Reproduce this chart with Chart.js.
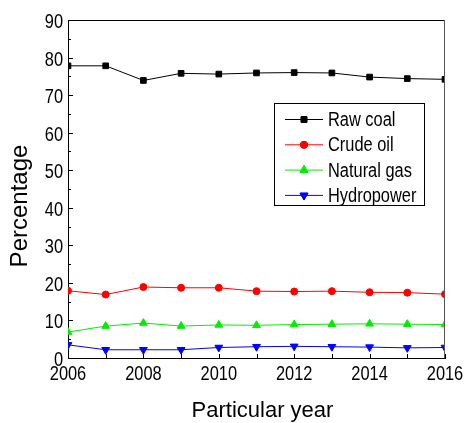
<!DOCTYPE html>
<html>
<head>
<meta charset="utf-8">
<script src="https://cdn.jsdelivr.net/npm/chart.js@4/dist/chart.umd.min.js"></script>
<style>
  html, body { margin: 0; padding: 0; background: #fff; }
  canvas { display: block; }
</style>
</head>
<body>
<canvas id="chart" width="465" height="423"></canvas>
<script>
// Share of primary energy production by source (%)
const years = [2006, 2007, 2008, 2009, 2010, 2011, 2012, 2013, 2014, 2015, 2016];
const rawCoal    = [77.8, 77.8, 73.9, 75.8, 75.6, 75.9, 76.0, 75.9, 74.8, 74.4, 74.2];
const crudeOil   = [17.9, 16.9, 18.9, 18.7, 18.7, 17.8, 17.7, 17.8, 17.5, 17.4, 17.0];
const naturalGas = [6.9, 8.5, 9.3, 8.5, 8.8, 8.7, 8.9, 9.0, 9.1, 9.0, 8.9];
const hydropower = [3.5, 2.2, 2.2, 2.2, 2.8, 3.0, 3.1, 3.0, 2.9, 2.7, 2.8];

const seriesNames = ['Raw coal', 'Crude oil', 'Natural gas', 'Hydropower'];
const xTickLabels = [2006, 2008, 2010, 2012, 2014, 2016];
const yTickLabels = [0, 10, 20, 30, 40, 50, 60, 70, 80, 90];
const xTitle = 'Particular year';
const yTitle = 'Percentage';

const SANS = "'Liberation Sans', Arial, sans-serif";
const CONDENSE = 0.82; // horizontal squeeze for the narrow tick and legend lettering

const styles = [
  { color: '#000000', pointStyle: 'rect', radius: 4, rotation: 0 },
  { color: '#ff0000', pointStyle: 'circle', radius: 3.5, rotation: 0 },
  { color: '#00ee00', pointStyle: 'triangle', radius: 4.5, rotation: 0 },
  { color: '#0000ff', pointStyle: 'triangle', radius: 4.5, rotation: 180 }
];
const seriesValues = [rawCoal, crudeOil, naturalGas, hydropower];

const datasets = seriesValues.map((vals, i) => ({
  label: seriesNames[i],
  data: years.map((yr, k) => ({ x: yr, y: vals[k] })),
  borderColor: styles[i].color,
  backgroundColor: styles[i].color,
  borderWidth: 1,
  pointStyle: styles[i].pointStyle,
  pointRadius: styles[i].radius,
  pointRotation: styles[i].rotation,
  pointBorderWidth: 1,
  pointBackgroundColor: styles[i].color,
  pointBorderColor: styles[i].color,
  tension: 0,
  clip: 0
}));

function narrowText(ctx, text, x, y, align) {
  ctx.save();
  ctx.translate(x, y);
  ctx.scale(CONDENSE, 1);
  ctx.textAlign = align;
  ctx.fillText(text, 0, 0);
  ctx.restore();
}

// Frame, inward tick marks, tick labels, axis titles and the boxed legend
const decorations = {
  id: 'decorations',
  afterDraw(chart) {
    const ctx = chart.ctx;
    const { left, right, top, bottom } = chart.chartArea;
    const xs = chart.scales.x, ys = chart.scales.y;
    ctx.save();

    // top and right edges of the frame
    ctx.lineWidth = 1;
    ctx.strokeStyle = '#000';
    ctx.beginPath();
    ctx.moveTo(left, top + 0.5);
    ctx.lineTo(right, top + 0.5);
    ctx.stroke();
    ctx.strokeStyle = '#555';
    ctx.beginPath();
    ctx.moveTo(right - 0.5, top);
    ctx.lineTo(right - 0.5, bottom);
    ctx.stroke();

    // inward ticks
    ctx.strokeStyle = '#000';
    ctx.beginPath();
    for (let v = 0; v <= 90; v += 5) {
      const y = Math.round(ys.getPixelForValue(v)) + 0.5;
      ctx.moveTo(left, y);
      ctx.lineTo(left + (v % 10 === 0 ? 5 : 3), y);
    }
    years.forEach(yr => {
      const x = Math.round(xs.getPixelForValue(yr)) + 0.5;
      ctx.moveTo(x, bottom);
      ctx.lineTo(x, bottom - 4);
    });
    ctx.stroke();

    // tick labels
    ctx.fillStyle = '#000';
    ctx.textBaseline = 'alphabetic';
    ctx.font = '20px ' + SANS;
    yTickLabels.forEach(v => {
      narrowText(ctx, String(v), left - 5, ys.getPixelForValue(v) + 8, 'right');
    });
    xTickLabels.forEach(v => {
      narrowText(ctx, String(v), xs.getPixelForValue(v), bottom + 22, 'center');
    });

    // axis titles
    ctx.textAlign = 'center';
    ctx.font = '22px ' + SANS;
    ctx.fillText(xTitle, (left + right) / 2 + 6, 417);
    ctx.save();
    ctx.translate(27, (top + bottom) / 2 + 17);
    ctx.rotate(-Math.PI / 2);
    ctx.font = '24px ' + SANS;
    ctx.fillText(yTitle, 0, 0);
    ctx.restore();

    // legend
    const bx = 274.5, by = 103.5, bw = 150, bh = 102;
    ctx.fillStyle = '#fff';
    ctx.fillRect(bx, by, bw, bh);
    ctx.strokeStyle = '#000';
    ctx.strokeRect(bx, by, bw, bh);
    ctx.font = '20px ' + SANS;
    ctx.textBaseline = 'middle';
    chart.data.datasets.forEach((ds, i) => {
      const y = 119.5 + i * 25.3;
      ctx.strokeStyle = ds.borderColor;
      ctx.lineWidth = 1;
      ctx.beginPath();
      ctx.moveTo(285, y);
      ctx.lineTo(323, y);
      ctx.stroke();
      ctx.fillStyle = ds.borderColor;
      Chart.helpers.drawPoint(ctx, {
        pointStyle: ds.pointStyle,
        radius: ds.pointRadius,
        rotation: ds.pointRotation,
        borderWidth: 1
      }, 304, y);
      ctx.fill();
      ctx.stroke();
      ctx.fillStyle = '#000';
      narrowText(ctx, ds.label, 328, y + 1, 'left');
    });
    ctx.restore();
  }
};

new Chart(document.getElementById('chart'), {
  type: 'line',
  data: { datasets },
  options: {
    responsive: false,
    animation: false,
    devicePixelRatio: 1,
    layout: { padding: { top: 20, right: 20, left: 0, bottom: 0 } },
    plugins: { legend: { display: false }, tooltip: { enabled: false } },
    scales: {
      x: {
        type: 'linear',
        min: years[0],
        max: years[years.length - 1],
        afterFit: s => { s.height = 65; },
        grid: { display: false },
        border: { display: true, color: '#000', width: 1 },
        ticks: { display: false }
      },
      y: {
        type: 'linear',
        min: 0,
        max: 90,
        afterFit: s => { s.width = 68; },
        grid: { display: false },
        border: { display: true, color: '#000', width: 1 },
        ticks: { display: false }
      }
    }
  },
  plugins: [decorations]
});
</script>
</body>
</html>
